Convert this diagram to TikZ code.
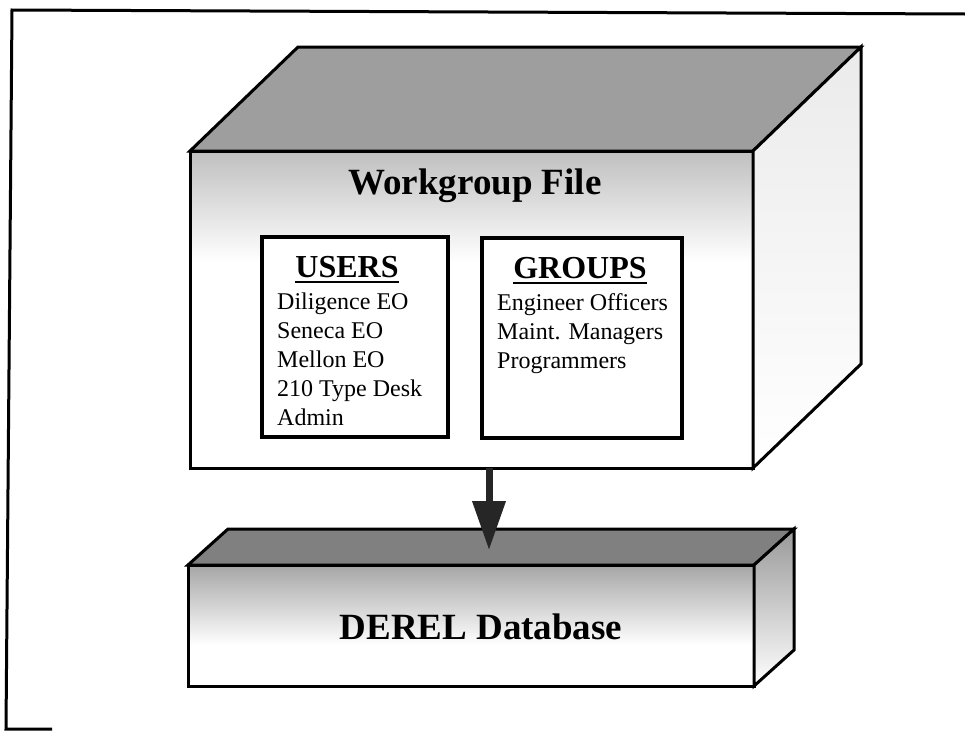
\documentclass[tikz,border=0pt]{standalone}
\usepackage{fontspec}
\setmainfont{Liberation Serif}
\usepackage{tikz}
\usetikzlibrary{arrows.meta, positioning, calc}
\tikzset{
  every node/.style={font=\fontsize{24}{29}\selectfont},
  edge/.style={line width=3pt, line join=miter},
  face/.style={draw, line width=3pt, anchor=north west, inner sep=0pt, outer sep=0pt},
  listbox/.style={draw, line width=3.5pt, fill=white, anchor=north west, inner sep=0pt, outer sep=0pt},
  heading/.style={font=\bfseries\fontsize{32}{36}\selectfont, inner sep=0pt, anchor=base},
  entry/.style={anchor=base west, inner sep=0pt},
  blocktitle/.style={font=\bfseries\fontsize{37}{40}\selectfont, inner sep=0pt},
}
\definecolor{lidgray}{gray}{0.62}
\definecolor{slabgray}{gray}{0.5}

\begin{document}
\begin{tikzpicture}[
    x=1pt, y=-1pt,
    >={Triangle[length=49pt, width=32pt]},
  ]
  \useasboundingbox (0,0) rectangle (965,731);

  % outer frame
  \draw[line width=3pt] (965,14) -- (12,10) -- (6,729) -- (52,729);

  % workgroup file block
  \fill[top color=black!25, bottom color=white] (190,151) rectangle (753,262);
  \node[face, minimum width=563pt, minimum height=317pt] (wgfront) at (190,151) {};
  \filldraw[edge, fill=lidgray] (wgfront.north west) -- ++(108,-104) -- ++(563,0) -- (wgfront.north east) -- cycle;
  \draw[edge, top color=black!8, bottom color=white] (wgfront.north east) -- ++(108,-104) -- ++(0,317) -- (wgfront.south east) -- cycle;
  \node[blocktitle] (wgtitle) at (475,186) {Workgroup File};

  % users
  \node[listbox, minimum width=186pt, minimum height=200pt] (users) at (262,237) {};
  \node[heading] (usershead) at (347,277) {USERS};
  \draw[line width=2.5pt] ([yshift=-5pt]usershead.base west) -- ([yshift=-5pt]usershead.base east);
  \foreach \name [count=\i] in {Diligence EO, Seneca EO, Mellon EO, 210 Type Desk, Admin}
    \node[entry] (user\i) at (277,{309+29*(\i-1)}) {\name};

  % groups
  \node[listbox, minimum width=200pt, minimum height=200pt] (groups) at (482,238) {};
  \node[heading] (groupshead) at (580,278) {GROUPS};
  \draw[line width=2.5pt] ([yshift=-5pt]groupshead.base west) -- ([yshift=-5pt]groupshead.base east);
  \foreach \name [count=\i] in {Engineer Officers, Maint. Managers, Programmers}
    \node[entry] (group\i) at (497,{310+29*(\i-1)}) {\name};

  % database block
  \fill[top color=black!35, bottom color=white] (188,565) rectangle (754,645);
  \node[face, minimum width=566pt, minimum height=121pt] (dbfront) at (188,565) {};
  \filldraw[edge, fill=slabgray] (dbfront.north west) -- ++(40,-36) -- ++(566,0) -- (dbfront.north east) -- cycle;
  \draw[edge, top color=black!40, bottom color=white] (dbfront.north east) -- ++(40,-36) -- ++(0,121) -- (dbfront.south east) -- cycle;
  \node[blocktitle] (dbtitle) at (481,627) {DEREL Database};

  \coordinate (dbhit) at (489,550);
  \draw[->, line width=7pt, black!85] (dbhit |- wgfront.south) -- (dbhit);
\end{tikzpicture}
\end{document}
